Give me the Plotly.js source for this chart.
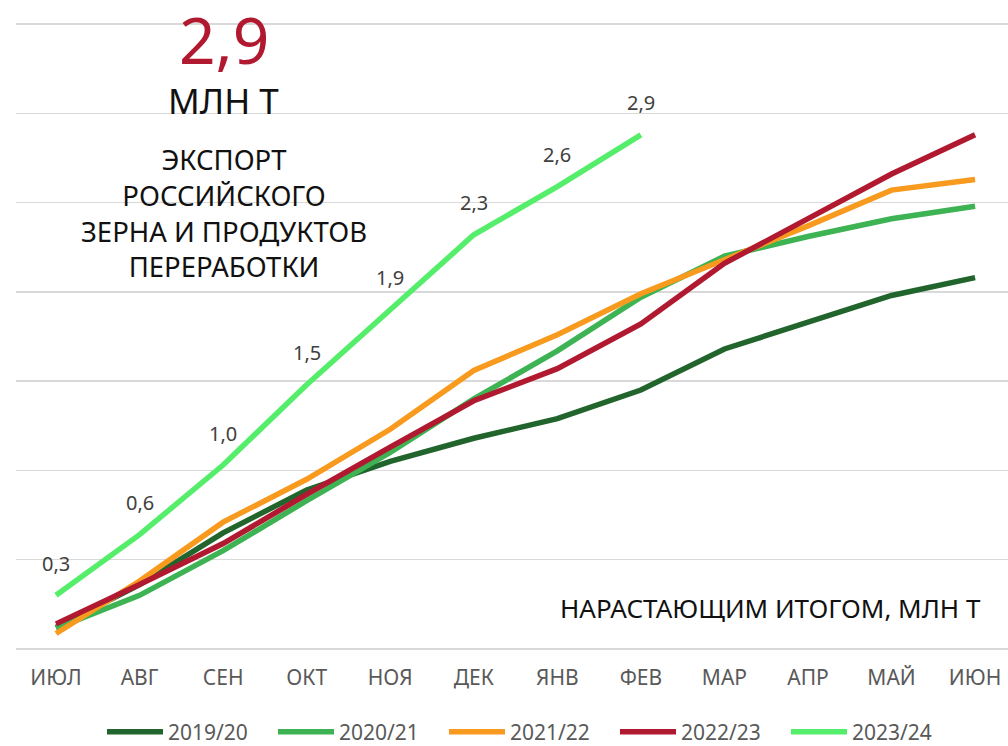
<!DOCTYPE html>
<html>
<head>
<meta charset="utf-8">
<script src="https://cdn.plot.ly/plotly-3.0.1.min.js"></script>
<style>html,body{margin:0;padding:0;background:#fff;overflow:hidden}#chart{width:1008px;height:746px}</style>
</head>
<body>
<div id="chart"></div>
<script>
// Categories (months, July–June)
const months = ["ИЮЛ","АВГ","СЕН","ОКТ","НОЯ","ДЕК","ЯНВ","ФЕВ","МАР","АПР","МАЙ","ИЮН"];

// Cumulative export, million tonnes
const s2019_20 = [0.12, 0.36, 0.65, 0.89, 1.05, 1.18, 1.29, 1.45, 1.68, 1.83, 1.98, 2.08];
const s2020_21 = [0.115, 0.30, 0.55, 0.83, 1.10, 1.40, 1.67, 1.97, 2.20, 2.31, 2.41, 2.48];
const s2021_22 = [0.086, 0.38, 0.71, 0.95, 1.23, 1.56, 1.76, 1.99, 2.18, 2.37, 2.57, 2.63];
const s2022_23 = [0.14, 0.36, 0.59, 0.865, 1.13, 1.39, 1.57, 1.82, 2.16, 2.41, 2.66, 2.88];
const s2023_24 = [0.30, 0.64, 1.03, 1.48, 1.90, 2.32, 2.59, 2.88];

const seriesNames = ["2019/20","2020/21","2021/22","2022/23","2023/24"];
const seriesData = [s2019_20, s2020_21, s2021_22, s2022_23, s2023_24];
const seriesColors = ["#21652d","#3db353","#f79a1e","#b0192f","#55ee6a"];

const FONT = '"Noto Sans", "DejaVu Sans", sans-serif';

const traces = seriesData.map((vals, i) => ({
  type: 'scatter',
  mode: 'lines',
  name: seriesNames[i],
  x: months.slice(0, vals.length),
  y: vals,
  line: {color: seriesColors[i], width: 5.5},
  hoverinfo: 'skip'
}));

// data labels for the current season
const fmt = v => v.toFixed(1).replace('.', ',');
const labelAnns = s2023_24.map((v, i) => ({
  x: months[i], y: v, xref: 'x', yref: 'y',
  text: fmt(v), showarrow: false, yshift: 32,
  font: {family: FONT, size: 20, color: '#404040'}
}));

// pixel → paper helpers for decorative text placement
const L = 16, R = 0, T = 22, B = 95, W = 1008, H = 746;
const pw = W - L - R, ph = H - T - B;
const px = x => (x - L) / pw;
const py = y => (H - B - y) / ph;

const textAnns = [
  {x: px(224), y: py(40), text: '2,9', font: {family: FONT, size: 64, color: '#b0192f'}},
  {x: px(223), y: py(100), text: 'МЛН Т', font: {family: FONT, size: 35, color: '#111'}},
  {x: px(224), y: py(213), text: 'ЭКСПОРТ<br>РОССИЙСКОГО<br>ЗЕРНА И ПРОДУКТОВ<br>ПЕРЕРАБОТКИ', font: {family: FONT, size: 27.5, color: '#111'}},
  {x: px(770), y: py(608), text: 'НАРАСТАЮЩИМ ИТОГОМ, МЛН Т', font: {family: FONT, size: 26, color: '#111'}}
].map(a => Object.assign({xref: 'paper', yref: 'paper', showarrow: false, xanchor: 'center', yanchor: 'middle'}, a));

const layout = {
  width: W, height: H,
  margin: {l: L, r: R, t: T, b: B, pad: 0, autoexpand: false},
  paper_bgcolor: '#fff', plot_bgcolor: '#fff',
  font: {family: FONT, color: '#595959'},
  showlegend: true,
  legend: {
    orientation: 'h', x: px(102), xanchor: 'left', y: py(732), yanchor: 'middle',
    font: {family: FONT, size: 21, color: '#595959'},
    itemwidth: 56, entrywidth: 100, bgcolor: 'rgba(0,0,0,0)', traceorder: 'normal'
  },
  xaxis: {
    type: 'category', categoryorder: 'array', categoryarray: months,
    range: [-0.479, 11.394], showgrid: false, zeroline: false, showline: false,
    ticks: '', tickfont: {family: FONT, size: 21, color: '#595959'}, ticklabelstandoff: 12,
    fixedrange: true
  },
  yaxis: {
    range: [-0.012, 3.512], dtick: 0.5, tick0: 0, showgrid: true, gridcolor: '#d9d9d9', gridwidth: 1.4,
    zeroline: false, showline: false, showticklabels: false, ticks: '', fixedrange: true
  },
  shapes: [
    {type: 'rect', xref: 'paper', yref: 'paper', x0: px(25), x1: px(390), y0: py(125), y1: py(0), fillcolor: '#fff', line: {width: 0}, layer: 'between'},
    {type: 'rect', xref: 'paper', yref: 'paper', x0: px(87), x1: px(323), y0: py(280), y1: py(145), fillcolor: '#fff', line: {width: 0}, layer: 'between'}
  ],
  annotations: labelAnns.concat(textAnns)
};

Plotly.newPlot('chart', traces, layout, {displayModeBar: false, staticPlot: true});
</script>
</body>
</html>
